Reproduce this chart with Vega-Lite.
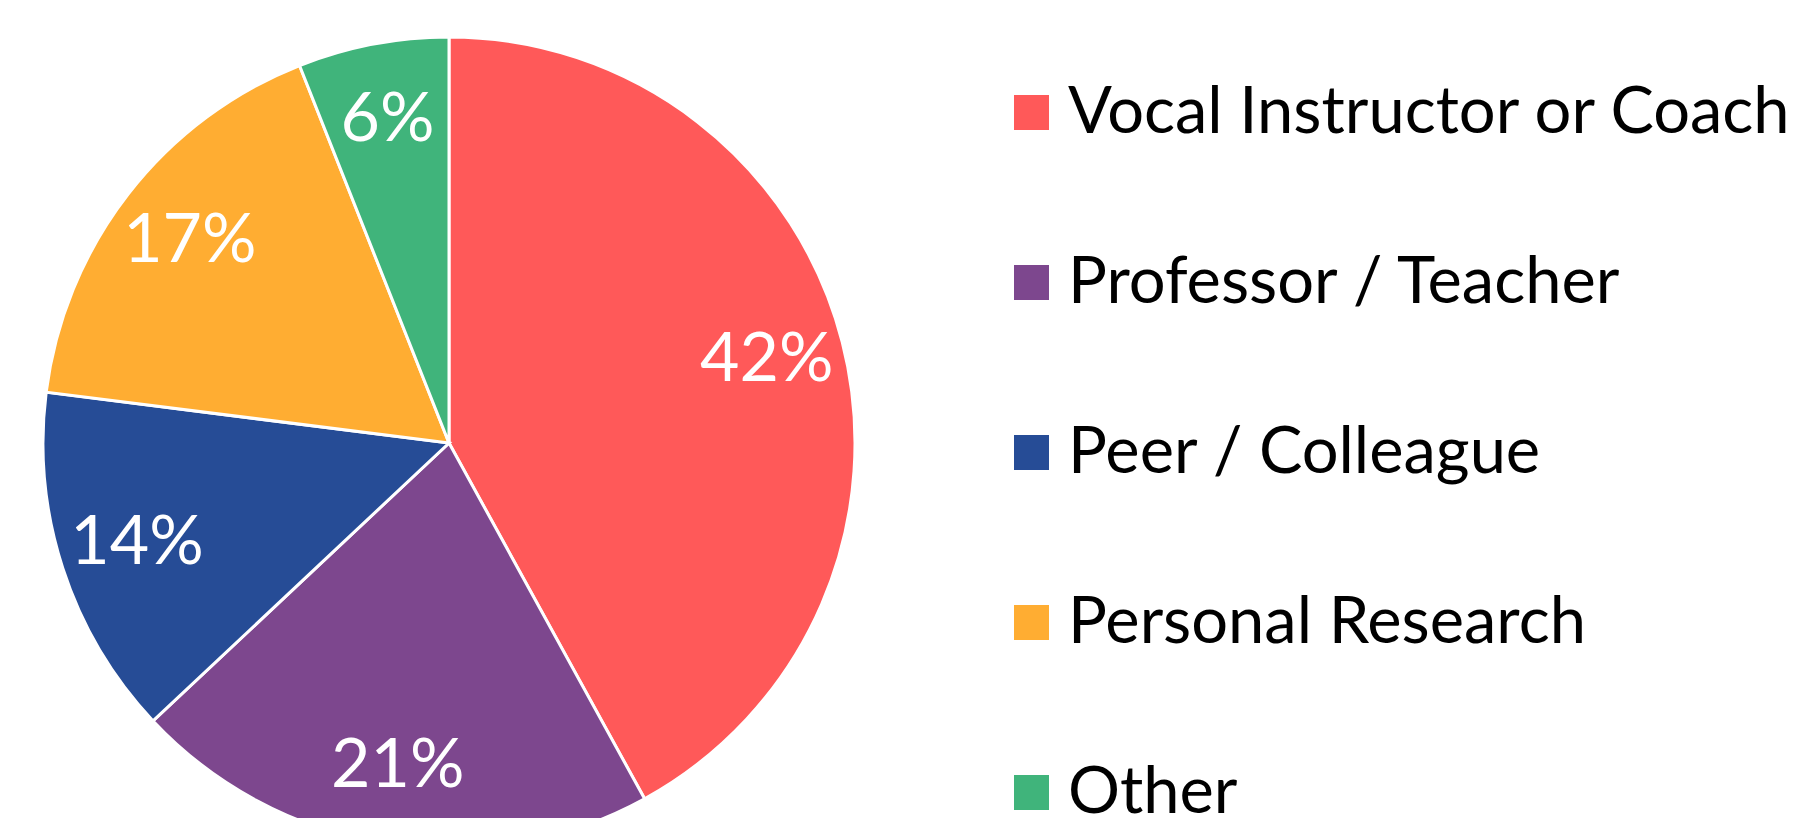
{
  "$schema": "https://vega.github.io/schema/vega-lite/v6.json",
  "width": 898,
  "height": 886,
  "padding": 0,
  "background": "white",
  "config": {"view": {"stroke": null}},
  "data": {
    "values": [
      {"idx": 1, "source": "Vocal Instructor or Coach", "share": 0.42},
      {"idx": 2, "source": "Professor / Teacher", "share": 0.21},
      {"idx": 3, "source": "Peer / Colleague", "share": 0.14},
      {"idx": 4, "source": "Personal Research", "share": 0.17},
      {"idx": 5, "source": "Other", "share": 0.06}
    ]
  },
  "encoding": {
    "theta": {"field": "share", "type": "quantitative", "stack": true},
    "order": {"field": "idx", "type": "quantitative"}
  },
  "layer": [
    {
      "mark": {"type": "arc", "outerRadius": 406, "stroke": "white", "strokeWidth": 3},
      "encoding": {
        "color": {
          "field": "source",
          "type": "nominal",
          "scale": {
            "domain": ["Vocal Instructor or Coach", "Professor / Teacher", "Peer / Colleague", "Personal Research", "Other"],
            "range": ["#FF5959", "#7D478E", "#264C96", "#FFAD32", "#40B47B"]
          },
          "legend": {
            "title": null,
            "orient": "none",
            "legendX": 999,
            "legendY": 80,
            "symbolType": "square",
            "symbolSize": 1225,
            "symbolStrokeWidth": 0,
            "labelFont": "Lato",
            "labelFontSize": 65,
            "labelColor": "black",
            "labelOffset": 4,
            "rowPadding": 104,
            "labelLimit": 900
          }
        }
      }
    },
    {
      "mark": {"type": "text", "radius": 328, "font": "Lato", "fontSize": 68, "color": "white"},
      "encoding": {
        "text": {"field": "share", "type": "quantitative", "format": ".0%"}
      }
    }
  ]
}
